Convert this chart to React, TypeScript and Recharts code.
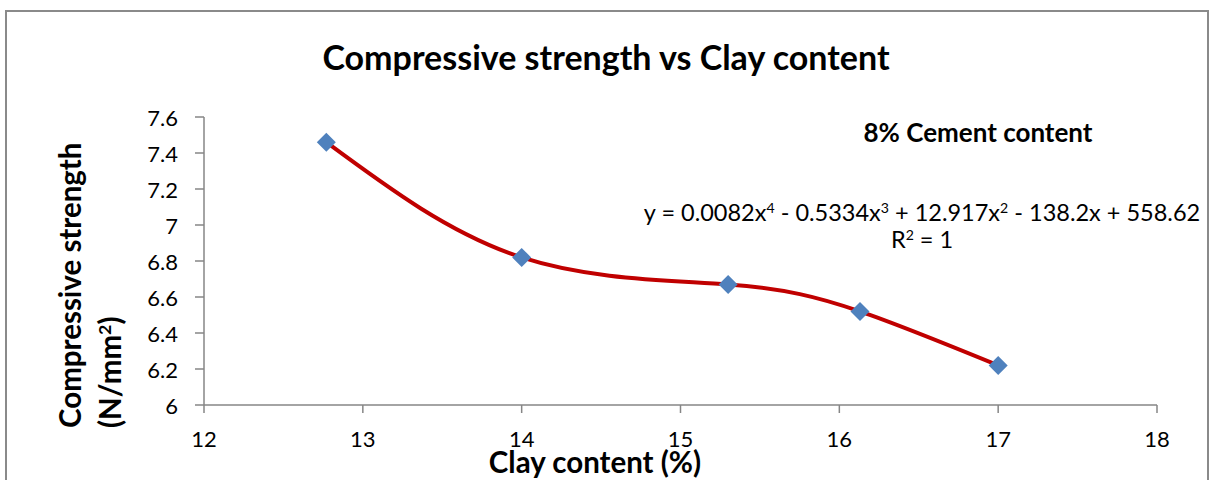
import React from "react";
import { ComposedChart, XAxis, YAxis, Line, Scatter } from "recharts";

const clayContent = [12.77, 14, 15.3, 16.13, 17];
const strength = [7.46, 6.82, 6.67, 6.52, 6.22];
const xTicks = [12, 13, 14, 15, 16, 17, 18];
const yTicks = [6, 6.2, 6.4, 6.6, 6.8, 7, 7.2, 7.4, 7.6];

const title = "Compressive strength vs Clay content";
const xLabel = "Clay content (%)";
const yLabel1 = "Compressive strength";
const seriesNote = "8% Cement content";

const data = clayContent.map((x, i) => ({ x, y: strength[i] }));

const FONT = "Lato, 'Open Sans', sans-serif";
const AXIS = "#868686";

const Diamond = (props: any) => {
  const { cx, cy } = props;
  if (cx == null || cy == null) return null;
  const r = 9.5;
  return (
    <polygon
      points={`${cx},${cy - r} ${cx + r},${cy} ${cx},${cy + r} ${cx - r},${cy}`}
      fill="#4F81BD"
    />
  );
};

const sup = { fontSize: "0.6em", verticalAlign: "0.55em", lineHeight: 0 } as const;

export default function App() {
  return (
    <div style={{ position: "absolute", left: 0, top: 0, width: 1220, height: 480, overflow: "hidden", background: "#fff", fontFamily: FONT, color: "#000" }}>
      <div style={{ position: "absolute", left: 5, top: 10, width: 1200, height: 500, border: "2px solid #8a8a8a" }} />
      <ComposedChart
        width={1220}
        height={480}
        data={data}
        margin={{ top: 117, right: 63, bottom: 45, left: 144 }}
        style={{ position: "absolute", left: 0, top: 0 }}
      >
        <XAxis
          type="number"
          dataKey="x"
          domain={[12, 18]}
          ticks={xTicks}
          interval={0}
          height={30}
          axisLine={{ stroke: AXIS, strokeWidth: 1.5 }}
          tickLine={{ stroke: AXIS, strokeWidth: 1.5 }}
          tickSize={8}
          tickMargin={18}
          tick={{ fill: "#000", fontSize: 22, fontFamily: FONT }}
        />
        <YAxis
          type="number"
          domain={[6, 7.6]}
          ticks={yTicks}
          interval={0}
          width={60}
          axisLine={{ stroke: AXIS, strokeWidth: 1.5 }}
          tickLine={{ stroke: AXIS, strokeWidth: 1.5 }}
          tickSize={9}
          tickMargin={17}
          tick={{ fill: "#000", fontSize: 22, fontFamily: FONT, dy: 1 }}
        />
        <Scatter dataKey="y" shape={<Diamond />} isAnimationActive={false} />
        <Line
          dataKey="y"
          type="natural"
          stroke="#C00000"
          strokeWidth={4}
          dot={false}
          activeDot={false}
          isAnimationActive={false}
        />
      </ComposedChart>
      <div style={{ position: "absolute", left: 0, width: 1212, top: 37, textAlign: "center", fontSize: 34, fontWeight: 700, lineHeight: "40px", whiteSpace: "nowrap" }}>
        {title}
      </div>
      <div style={{ position: "absolute", left: 395, width: 400, top: 454, textAlign: "center", fontSize: 29.5, fontWeight: 700, lineHeight: "16px", whiteSpace: "nowrap" }}>
        {xLabel}
      </div>
      <div style={{ position: "absolute", left: 50, top: 428, transform: "rotate(-90deg)", transformOrigin: "0 0", textAlign: "left", fontSize: 29.5, fontWeight: 700, lineHeight: "40px", whiteSpace: "nowrap" }}>
        <div>{yLabel1}</div>
        <div>(N/mm<span style={sup}>2</span>)</div>
      </div>
      <div style={{ position: "absolute", left: 778, width: 400, top: 117, textAlign: "center", fontSize: 26, fontWeight: 700, lineHeight: "30px", whiteSpace: "nowrap" }}>
        {seriesNote}
      </div>
      <div style={{ position: "absolute", left: 622, width: 600, top: 199, textAlign: "center", fontSize: 23.5, lineHeight: "27px", whiteSpace: "nowrap" }}>
        <div>
          y = 0.0082x<span style={sup}>4</span> - 0.5334x<span style={sup}>3</span> + 12.917x<span style={sup}>2</span> - 138.2x + 558.62
        </div>
        <div>
          R<span style={sup}>2</span> = 1
        </div>
      </div>
    </div>
  );
}
